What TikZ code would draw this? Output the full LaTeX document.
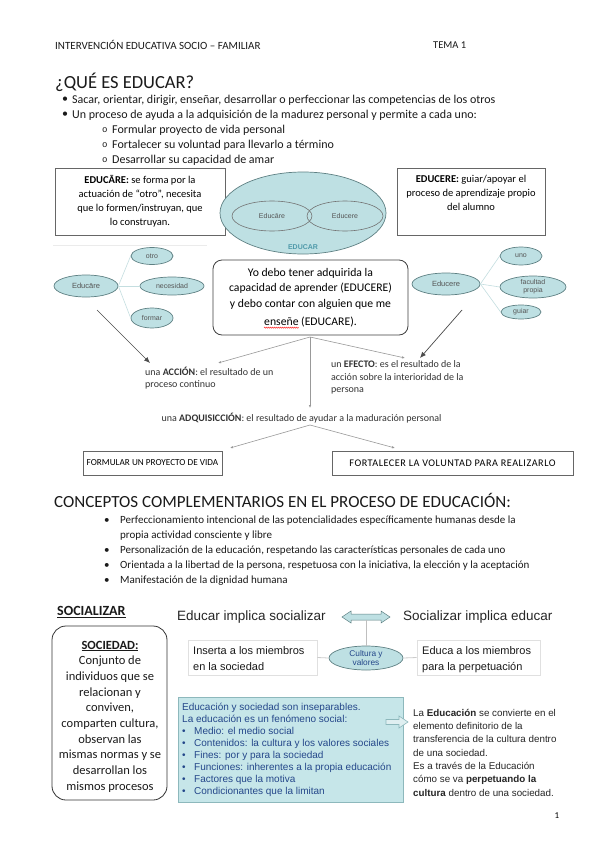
\documentclass[tikz,border=0pt]{standalone}
\usepackage{fontspec}
\setmainfont{Carlito}
\newfontfamily\arialf{Liberation Sans}
\newfontfamily\monof{Liberation Mono}
\newfontfamily\carlsp[LetterSpace=5]{Carlito}
\usetikzlibrary{shapes.geometric,arrows.meta,decorations.pathmorphing}
\definecolor{ellfill}{HTML}{BEE0E3}
\definecolor{ellline}{HTML}{5E8083}
\definecolor{brline}{HTML}{C4DEE0}
\definecolor{boxfill}{HTML}{C6E6E9}
\definecolor{boxline}{HTML}{8DB8BC}
\definecolor{dblue}{HTML}{24478A}
\definecolor{eduteal}{HTML}{4F9AAA}
\definecolor{txtdark}{HTML}{1A1A1A}
\definecolor{greytxt}{HTML}{555555}
\newcommand{\fs}[2]{\fontsize{#1}{#2}\selectfont}
\begin{document}
\begin{tikzpicture}[x=1pt,y=-1pt,
  txt/.style={anchor=west,inner sep=0pt,text=txtdark},
  ell/.style={ellipse,draw=ellline,fill=ellfill,inner sep=0pt,line width=0.7pt},
  sell/.style={ell,font=\arialf\fs{7}{8},text=greytxt},
  br/.style={draw=brline,line width=0.6pt},
  bigarr/.style={draw=black!70,line width=0.7pt,-{Latex[length=6pt,width=5pt]}},
  thinarr/.style={draw=black!40,line width=0.6pt,-{Latex[length=3pt,width=2.5pt]}},
  plainbox/.style={draw=black!60,line width=0.6pt,inner sep=0pt},
  body/.style={txt,font=\fs{12}{14}},
  subm/.style={txt,font=\monof\fs{9}{12}},
  bodyb/.style={txt,font=\fs{11}{13}},
  lbl/.style={inner sep=0pt,text=black!80,font=\fs{10}{12.5}},
]
\useasboundingbox[fill=white] (0,0) rectangle (599,848);
% ---------- header ----------
\node[txt,font=\fs{11}{12}] (hdr) at (55,45) {INTERVENCIÓN EDUCATIVA SOCIO – FAMILIAR};
\node[txt,font=\fs{10.5}{12}] (tema) at (433,45) {TEMA 1};
\node[txt,font=\fs{18.5}{21}] (t1) at (55,82) {¿QUÉ ES EDUCAR?};
\node[body] (b1d) at (62,100) {•};
\node[body] (b1) at (72,100) {Sacar, orientar, dirigir, enseñar, desarrollar o perfeccionar las competencias de los otros};
\node[body] (b2d) at (62,115) {•};
\node[body] (b2) at (72,115) {Un proceso de ayuda a la adquisición de la madurez personal y permite a cada uno:};
\node[subm] (s1d) at (102,130) {o};
\node[body] (s1) at (112,130) {Formular proyecto de vida personal};
\node[subm] (s2d) at (102,145) {o};
\node[body] (s2) at (112,145) {Fortalecer su voluntad para llevarlo a término};
\node[subm] (s3d) at (102,160) {o};
\node[body] (s3) at (112,160) {Desarrollar su capacidad de amar};
% ---------- top boxes and big ellipse ----------
\node[plainbox,minimum width=170,minimum height=67] (bxa) at (140,201.5) {};
\node[font=\fs{10.5}{14},align=center,inner sep=0pt,anchor=north] (bxat) at (140,175.5) {\textbf{EDUCĀRE:} se forma por la\\actuación de “otro”, necesita\\que lo formen/instruyan, que\\lo construyan.};
\node[ell,minimum width=166,minimum height=82] (big) at (303,213) {};
\node[ellipse,draw=black!55,line width=0.6pt,minimum width=80,minimum height=30,inner sep=0pt,font=\arialf\fs{7}{8},text=greytxt] (ie1) at (272,216) {Educāre};
\node[ellipse,draw=black!55,line width=0.6pt,minimum width=76,minimum height=30,inner sep=0pt,font=\arialf\fs{7}{8},text=greytxt] (ie2) at (345,216) {Educere};
\node[font=\arialf\bfseries\fs{7}{8},text=eduteal,inner sep=0pt] (edl) at (303,247) {EDUCAR};
\node[plainbox,minimum width=148,minimum height=67] (bxe) at (471,201.5) {};
\node[font=\fs{10.5}{14},align=center,inner sep=0pt,anchor=north] (bxet) at (471,175.5) {\textbf{EDUCERE:} guiar/apoyar el\\proceso de aprendizaje propio\\del alumno};
% ---------- left cluster ----------
\draw[black!8] (53,245) -- (207,245);
\node[ell,minimum width=64,minimum height=22,font=\arialf\fs{7.5}{9},text=greytxt] (la) at (86,286) {Educāre};
\node[sell,minimum width=42,minimum height=17] (lo) at (152,256) {otro};
\node[sell,minimum width=64,minimum height=18] (ln) at (172,286) {necesidad};
\node[sell,minimum width=42,minimum height=20] (lf) at (152,318) {formar};
\draw[br] (la.east) -- (lo.west);
\draw[br] (la.east) -- (ln.west);
\draw[br] (la.east) -- (lf.west);
% ---------- right cluster ----------
\node[ell,minimum width=68,minimum height=22,font=\arialf\fs{7.5}{9},text=greytxt] (ra) at (446,284) {Educere};
\node[sell,minimum width=42,minimum height=18] (ru) at (521,256) {uno};
\node[sell,minimum width=66,minimum height=22,align=center,font=\arialf\fs{7}{8}] (rf) at (533,287) {facultad\\propia};
\node[sell,minimum width=40,minimum height=14] (rg) at (521,312) {guiar};
\draw[br] (ra.east) -- (ru.west);
\draw[br] (ra.east) -- (rf.west);
\draw[br] (ra.east) -- (rg.west);
% ---------- center box ----------
\node[draw=black!75,line width=0.8pt,rounded corners=9pt,minimum width=195,minimum height=75,inner sep=0pt] (cbox) at (310.5,297.5) {};
\node[font=\fs{11.7}{15.5},align=center,inner sep=0pt,anchor=north] (ctext) at (310.5,268) {Yo debo tener adquirida la\\capacidad de aprender (EDUCERE)\\y debo contar con alguien que me};
\node[font=\fs{11.7}{15.5},inner sep=0pt] (cl4) at (310.5,322) {enseñe (EDUCARE).};
\node[font=\fs{11.7}{15.5},inner sep=0pt,anchor=base west] (ens) at (cl4.base west) {\phantom{enseñe}};
\draw[red!80,line width=0.5pt,decorate,decoration={snake,amplitude=0.6pt,segment length=2pt}] ([yshift=-2.2pt]ens.base west) -- ([yshift=-2.2pt]ens.base east);
% ---------- arrows ----------
\coordinate (lst) at (97,310);
\coordinate (lend) at (150,363);
\coordinate (rst) at (462,310);
\coordinate (rend) at (420,358);
\draw[bigarr] (lst) -- (lend);
\draw[bigarr] (rst) -- (rend);
\coordinate (cj) at (310,337);
\coordinate (acE) at (218,363);
\coordinate (efE) at (405,358);
\coordinate (adE) at (310,408);
\draw[thinarr] (cj) -- (acE);
\draw[thinarr] (cj) -- (efE);
\draw[thinarr] (cj) -- (adE);
\node[lbl,anchor=north west,align=left] (accion) at (145,366.5) {una \textbf{ACCIÓN}: el resultado de un\\proceso continuo};
\node[lbl,anchor=north west,align=left] (efecto) at (331,360.5) {un \textbf{EFECTO}: es el resultado de la\\acción sobre la interioridad de la\\persona};
\node[lbl] (adq) at (301.5,418) {una \textbf{ADQUISICCIÓN}: el resultado de ayudar a la maduración personal};
\coordinate (aj) at (310,425);
\coordinate (f1E) at (230,448);
\coordinate (f2E) at (395,448);
\draw[thinarr] (aj) -- (f1E);
\draw[thinarr] (aj) -- (f2E);
\node[plainbox,minimum width=139,minimum height=24,font=\fs{9.2}{11}] (fb1) at (152.5,463) {FORMULAR UN PROYECTO DE VIDA};
\node[plainbox,minimum width=241,minimum height=24,font=\carlsp\fs{10.2}{12}] (fb2) at (452.5,463) {FORTALECER LA VOLUNTAD PARA REALIZARLO};
% ---------- section 2 ----------
\node[txt,font=\fs{17}{19}] (t2) at (54,500) {CONCEPTOS COMPLEMENTARIOS EN EL PROCESO DE EDUCACIÓN:};
\node[bodyb] (c1d) at (104,521) {•};
\node[bodyb] (c1) at (120,521) {Perfeccionamiento intencional de las potencialidades específicamente humanas desde la};
\node[bodyb] (c1b) at (120,536) {propia actividad consciente y libre};
\node[bodyb] (c2d) at (104,551) {•};
\node[bodyb] (c2) at (120,551) {Personalización de la educación, respetando las características personales de cada uno};
\node[bodyb] (c3d) at (104,566) {•};
\node[bodyb] (c3) at (120,566) {Orientada a la libertad de la persona, respetuosa con la iniciativa, la elección y la aceptación};
\node[bodyb] (c4d) at (104,581) {•};
\node[bodyb] (c4) at (120,581) {Manifestación de la dignidad humana};
% ---------- section 3 ----------
\node[txt,font=\bfseries\fs{14}{16}] (soc) at (57,612) {\underline{SOCIALIZAR}};
\node[draw=black!80,line width=0.8pt,rounded corners=14pt,minimum width=115,minimum height=174,inner sep=0pt] (sbox) at (109.5,713) {};
\node[align=center,font=\fs{12.5}{15.7},inner sep=0pt,text=txtdark] (stext) at (110,716.6) {\underline{\textbf{SOCIEDAD:}}\\Conjunto de\\individuos que se\\relacionan y\\conviven,\\comparten cultura,\\observan las\\mismas normas y se\\desarrollan los\\mismos procesos};
\node[txt,font=\arialf\fs{13.5}{16},text=black!85] (eis) at (177,617) {Educar implica socializar};
\node[txt,font=\arialf\fs{13.5}{16},text=black!85] (sie) at (403,617) {Socializar implica educar};
\coordinate (dblc) at (366,620);
\filldraw[draw=ellline,fill=ellfill,line width=0.5pt] (342,617) -- (351,611) -- (351,614) -- (381,614) -- (381,611) -- (390,617) -- (381,623) -- (381,620) -- (351,620) -- (351,623) -- cycle;
\node[draw=black!12,line width=0.6pt,minimum width=129,minimum height=35,inner sep=0pt] (lbx) at (252.5,657.5) {};
\node[txt,anchor=north west,align=left,font=\arialf\fs{11}{16}] (lbxt) at (193,646) {Inserta a los miembros\\en la sociedad};
\node[draw=black!12,line width=0.6pt,minimum width=123,minimum height=35,inner sep=0pt] (rbx) at (478.5,657.5) {};
\node[txt,anchor=north west,align=left,font=\arialf\fs{11}{16}] (rbxt) at (422,646) {Educa a los miembros\\para la perpetuación};
\node[ell,minimum width=74,minimum height=24,font=\arialf\fs{8.3}{9.5},text=dblue,align=center] (cult) at (366,658) {Cultura y\\valores};
\draw[black!25,line width=0.8pt] (dblc) -- (cult.north);
\draw[black!20,line width=0.8pt] (lbx.east) -- (cult.west);
\draw[black!20,line width=0.8pt] (cult.east) -- (rbx.west);
\node[draw=boxline,fill=boxfill,line width=0.8pt,minimum width=225,minimum height=105,inner sep=0pt] (bbox) at (290.5,749.5) {};
\node[txt,anchor=north west,align=left,font=\arialf\fs{10}{12},text=dblue] (bbt) at (182,703) {Educación y sociedad son inseparables.\\La educación es un fenómeno social:\\\makebox[12pt][l]{•}Medio: el medio social\\\makebox[12pt][l]{•}Contenidos: la cultura y los valores sociales\\\makebox[12pt][l]{•}Fines: por y para la sociedad\\\makebox[12pt][l]{•}Funciones: inherentes a la propia educación\\\makebox[12pt][l]{•}Factores que la motiva\\\makebox[12pt][l]{•}Condicionantes que la limitan};
\filldraw[draw=boxline,fill=ellfill!50,line width=0.6pt] (386,719.5) -- (399,719.5) -- (399,716) -- (408,722) -- (399,728) -- (399,724.5) -- (386,724.5) -- cycle;
\node[txt,anchor=north west,align=left,font=\arialf\fs{9.8}{13.3},text=black!85] (rtx) at (413,709) {La \textbf{Educación} se convierte en el\\elemento definitorio de la\\transferencia de la cultura dentro\\de una sociedad.\\Es a través de la Educación\\cómo se va \textbf{perpetuando la}\\\textbf{cultura} dentro de una sociedad.};
\node[font=\fs{9}{10},inner sep=0pt] (pg) at (557,816) {1};
\end{tikzpicture}
\end{document}
